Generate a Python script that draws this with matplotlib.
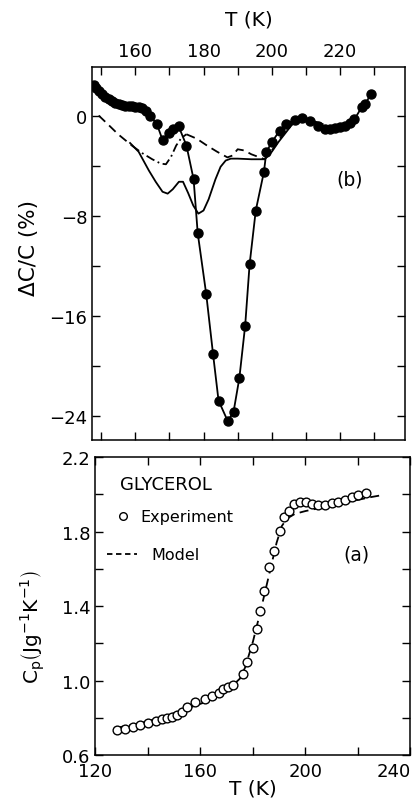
import matplotlib

matplotlib.use("Agg")
import matplotlib.pyplot as plt
from matplotlib.ticker import FixedLocator, FormatStrFormatter
from matplotlib.lines import Line2D

# ---- panel (b): relative change of C, measured points ----
exp_b_T = [147.8, 148.5, 149.3, 150.2, 151.2, 152.2, 153.2, 154.2, 155.2, 156.1,
           157.1, 158.1, 159.0, 160.0, 161.0, 162.0, 163.3, 164.3, 166.3, 168.0,
           169.8, 171.2, 172.7, 175.0, 177.1, 178.3, 180.8, 182.8, 184.4, 187.1,
           188.8, 190.5, 192.2, 193.5, 195.3, 197.7, 198.4, 200.1, 202.3, 204.3,
           206.7, 208.7, 211.1, 213.6, 215.5, 217.0, 218.5, 220.0, 221.4, 222.8,
           224.2, 226.3, 227.3, 229.0]
exp_b_dC = [2.45, 2.2, 1.95, 1.7, 1.5, 1.3, 1.15, 1.0, 0.9, 0.84,
            0.8, 0.76, 0.73, 0.7, 0.67, 0.62, 0.4, 0.0, -0.65, -1.95,
            -1.4, -1.1, -0.85, -2.4, -5.1, -9.4, -14.3, -19.1, -22.8, -24.45,
            -23.7, -21.0, -16.8, -11.9, -7.6, -4.5, -2.9, -2.1, -1.2, -0.7,
            -0.33, -0.23, -0.4, -0.8, -1.1, -1.05, -1.0, -0.95, -0.8, -0.6,
            -0.3, 0.65, 0.9, 1.7]

# dashed model curve (with a dash-dot stretch in the middle)
dash1_T = [149.3, 152.0, 155.0, 159.0]
dash1_dC = [0.0, -0.7, -1.5, -2.4]
dashdot_T = [159.0, 162.0, 165.0, 167.5, 169.0, 170.5, 172.0, 173.5, 175.0]
dashdot_dC = [-2.4, -3.0, -3.5, -3.85, -3.9, -3.3, -2.4, -1.8, -1.5]
dash2_T = [175.0, 178.0, 181.0, 184.0, 187.0, 188.5, 190.0, 192.0, 194.0, 197.9,
           200.0, 202.0, 204.0, 206.0, 208.0, 211.0, 214.0, 217.0, 220.0, 223.0]
dash2_dC = [-1.5, -1.85, -2.4, -2.9, -3.35, -3.2, -2.7, -2.8, -3.1, -3.5,
            -2.8, -2.0, -1.2, -0.6, -0.35, -0.35, -0.6, -0.9, -0.9, -0.55]

# solid model curve
solid_T = [158.5, 161.0, 164.0, 166.0, 168.0, 169.5, 171.0, 172.8, 174.0, 175.5,
           177.0, 178.5, 180.0, 181.5, 183.5, 185.0, 186.5, 188.0, 190.0, 194.0,
           197.9, 200.0, 202.0, 204.0, 205.7, 207.5, 210.0, 213.0, 216.0, 219.0,
           222.0]
solid_dC = [-2.2, -2.9, -4.4, -5.3, -6.1, -6.25, -5.9, -5.3, -5.3, -6.2,
            -7.2, -7.85, -7.6, -6.7, -5.1, -4.1, -3.6, -3.45, -3.45, -3.5,
            -3.5, -2.9, -2.1, -1.4, -0.8, -0.4, -0.3, -0.55, -0.95, -0.95,
            -0.7]

# ---- panel (a): heat capacity of glycerol ----
exp_a_T = [128.1, 131.2, 134.2, 137.0, 140.1, 143.0, 145.2, 147.1, 149.0, 150.9,
           152.8, 154.7, 157.9, 161.7, 164.3, 167.2, 168.7, 170.6, 172.3, 176.3,
           177.6, 179.9, 181.4, 182.7, 184.3, 186.2, 188.0, 190.3, 191.8, 193.8,
           195.7, 197.9, 200.2, 202.4, 204.9, 207.4, 210.0, 212.5, 215.0, 217.6,
           220.1, 223.0]
exp_a_cp = [0.734, 0.740, 0.749, 0.761, 0.770, 0.784, 0.793, 0.799, 0.806, 0.816,
            0.829, 0.856, 0.883, 0.901, 0.915, 0.933, 0.954, 0.963, 0.976, 1.035,
            1.098, 1.173, 1.277, 1.375, 1.482, 1.608, 1.697, 1.804, 1.876, 1.912,
            1.948, 1.960, 1.960, 1.948, 1.944, 1.944, 1.953, 1.960, 1.971, 1.984,
            1.996, 2.007]

model_a_T = [127.5, 135.0, 145.0, 155.0, 163.0, 168.0, 172.0, 175.0, 177.0, 180.0,
             183.0, 186.0, 189.0, 191.0, 193.0, 196.0, 200.0, 205.0, 210.0, 215.0,
             220.0, 225.0, 229.0]
model_a_cp = [0.745, 0.765, 0.80, 0.85, 0.89, 0.93, 0.97, 1.01, 1.07, 1.21,
              1.38, 1.56, 1.74, 1.83, 1.87, 1.895, 1.91, 1.925, 1.94, 1.955,
              1.97, 1.985, 1.995]

a_xticks = [120, 160, 200, 240]

FS = 13
LFS = 14.5
LW = 1.3

plt.rcParams["font.family"] = ["DejaVu Sans"]
plt.rcParams["axes.linewidth"] = 1.1

fig = plt.figure(figsize=(4.15, 8.03), dpi=100)
ax_b = fig.add_axes([0.2217, 0.4508, 0.7542, 0.4645])
ax_a = fig.add_axes([0.2301, 0.0585, 0.7590, 0.3711])

# panel (b)
ax_b.plot(dash1_T, dash1_dC, color="black", lw=LW, ls=(0, (5, 3)))
ax_b.plot(dashdot_T, dashdot_dC, color="black", lw=LW, ls=(0, (5, 2, 1, 2)))
ax_b.plot(dash2_T, dash2_dC, color="black", lw=LW, ls=(0, (5, 3)))
ax_b.plot(solid_T, solid_dC, color="black", lw=LW)
ax_b.plot(exp_b_T, exp_b_dC, color="black", lw=LW, marker="o", ms=6.5,
          mfc="black", mec="black")

ax_b.set_xlim(147.35, 239.0)
ax_b.set_ylim(-25.96, 3.88)
ax_b.xaxis.set_major_locator(FixedLocator([160, 180, 200, 220]))
ax_b.xaxis.set_minor_locator(FixedLocator([150, 170, 190, 210, 230]))
ax_b.yaxis.set_major_locator(FixedLocator([-24, -16, -8, 0]))
ax_b.yaxis.set_minor_locator(FixedLocator([-20, -12, -4]))
ax_b.tick_params(axis="both", which="both", direction="in", length=6, width=1.0,
                 top=True, right=True, labelsize=FS)
ax_b.tick_params(axis="x", labeltop=True, labelbottom=False, pad=5)
ax_b.xaxis.set_label_position("top")
ax_b.set_xlabel("T (K)", fontsize=LFS)
ax_b.xaxis.set_label_coords(0.5, 1.115)
ax_b.set_ylabel("ΔC/C (%)", fontsize=LFS + 1)
ax_b.yaxis.set_label_coords(-0.17, 0.517)
ax_b.text(0.824, 0.70, "(b)", transform=ax_b.transAxes, fontsize=FS + 0.5,
          ha="center", va="center")

# panel (a)
ax_a.plot(model_a_T, model_a_cp, color="black", lw=LW, ls=(0, (5, 3)))
ax_a.plot(exp_a_T, exp_a_cp, ls="none", marker="o", ms=6.3, mfc="white",
          mec="black", mew=1.0)

ax_a.set_xlim(120, 240)
ax_a.set_ylim(0.6, 2.2)
ax_a.set_xticks(a_xticks, labels=[str(t) for t in a_xticks])
ax_a.xaxis.set_minor_locator(FixedLocator([140, 180, 220]))
ax_a.yaxis.set_major_locator(FixedLocator([0.6, 1.0, 1.4, 1.8, 2.2]))
ax_a.yaxis.set_minor_locator(FixedLocator([0.8, 1.2, 1.6, 2.0]))
ax_a.yaxis.set_major_formatter(FormatStrFormatter("%.1f"))
ax_a.tick_params(axis="both", which="both", direction="in", length=6, width=1.0,
                 top=True, right=True, labelsize=FS)
ax_a.tick_params(axis="x", pad=5)
ax_a.get_xticklabels()[-1].set_horizontalalignment("right")
ax_a.set_xlabel("T (K)", fontsize=LFS)
ax_a.xaxis.set_label_coords(0.5, -0.08)
ax_a.set_ylabel(r"$\mathrm{C_p\left(J g^{-1} K^{-1}\right)}$", fontsize=LFS)
ax_a.yaxis.set_label_coords(-0.155, 0.433)

ax_a.text(0.078, 0.909, "GLYCEROL", transform=ax_a.transAxes, fontsize=FS,
          ha="left", va="center")
ax_a.add_line(Line2D([0.087], [0.802], transform=ax_a.transAxes, ls="none",
                     marker="o", ms=5.5, mfc="white", mec="black", mew=1.0))
ax_a.text(0.141, 0.802, "Experiment", transform=ax_a.transAxes, fontsize=11.5,
          ha="left", va="center")
ax_a.add_line(Line2D([0.037, 0.132], [0.674, 0.674], transform=ax_a.transAxes,
                     color="black", lw=LW, ls=(0, (3, 2))))
ax_a.text(0.179, 0.674, "Model", transform=ax_a.transAxes, fontsize=11.5,
          ha="left", va="center")
ax_a.text(0.83, 0.674, "(a)", transform=ax_a.transAxes, fontsize=FS + 0.5,
          ha="center", va="center")

fig.savefig("out.png", dpi=100)
plt.close(fig)
